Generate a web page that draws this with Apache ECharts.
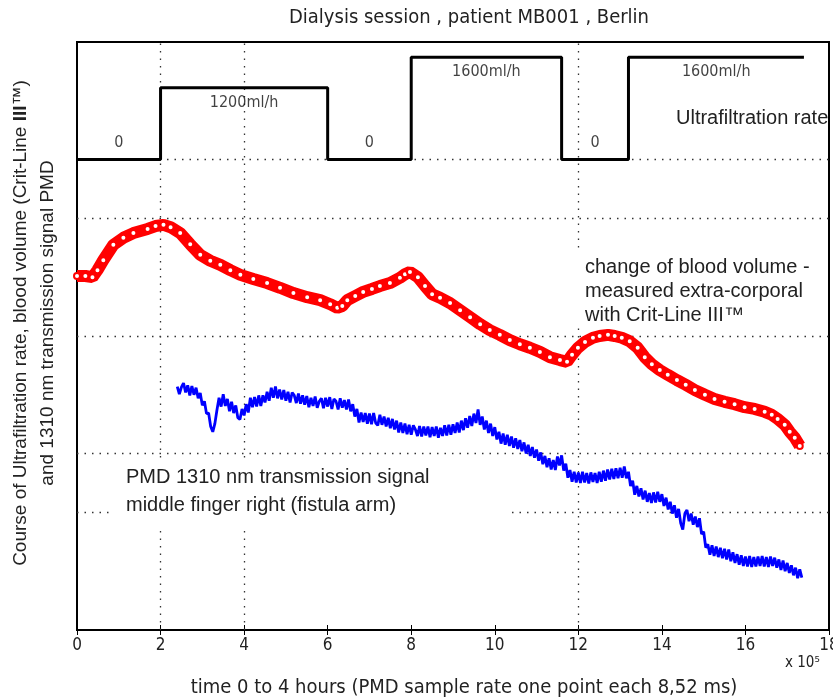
<!DOCTYPE html>
<html>
<head>
<meta charset="utf-8">
<script src="https://cdn.jsdelivr.net/npm/echarts@6/dist/echarts.min.js"></script>
<style>
html, body { margin: 0; padding: 0; background: #fff; }
#main { width: 833px; height: 700px; }
</style>
</head>
<body>
<div id="main"></div>
<script>
// dotted grid positions (the figure only shows some of them)
var yGridLevels = [20, 30, 50, 70, 80];
var xGridTimes = [2, 4, 12];

// ultrafiltration rate steps (time x10^5 samples, plotted level)
var ufTime = [0, 2, 6, 8, 11.6, 13.2, 17.4];
var ufLevel = [80, 92.2, 80, 97.4, 80, 97.4, 97.4];
var ufText = ['0', '1200ml/h', '0', '1600ml/h', '0', '1600ml/h'];

// blood volume, Crit-Line III (red circles)
var bvTime = [0.0, 0.20, 0.37, 0.49, 0.63, 0.87, 1.11, 1.35, 1.69, 1.88,
  2.07, 2.24, 2.47, 2.71, 2.95, 3.19, 3.43, 3.67, 3.91, 4.22,
  4.55, 4.86, 5.18, 5.51, 5.82, 6.06, 6.23, 6.35, 6.47, 6.66,
  6.85, 7.06, 7.25, 7.49, 7.73, 7.85, 7.97, 8.16, 8.33, 8.50,
  8.69, 8.93, 9.17, 9.41, 9.65, 9.88, 10.12, 10.36, 10.60, 10.84,
  11.08, 11.32, 11.56, 11.73, 11.85, 11.99, 12.16, 12.35, 12.51, 12.71,
  12.87, 13.04, 13.23, 13.42, 13.59, 13.76, 13.95, 14.14, 14.36, 14.57,
  14.79, 15.03, 15.26, 15.50, 15.74, 15.98, 16.22, 16.46, 16.63, 16.77,
  16.94, 17.06, 17.18, 17.30];
var bvValue = [60.2, 60.2, 60.0, 61.2, 62.9, 65.5, 66.7, 67.5, 68.2, 68.7,
  68.9, 68.5, 67.5, 65.6, 63.8, 62.8, 62.1, 61.2, 60.4, 59.7,
  59.0, 58.2, 57.3, 56.6, 56.1, 55.4, 54.8, 55.1, 56.1, 56.8,
  57.5, 58.0, 58.5, 59.0, 59.9, 60.5, 60.9, 60.0, 58.5, 57.1,
  56.5, 55.6, 54.4, 53.2, 52.0, 51.0, 50.2, 49.3, 48.6, 48.0,
  47.3, 46.4, 45.9, 45.6, 46.8, 48.0, 49.0, 49.7, 50.0, 50.2,
  50.0, 49.7, 49.1, 48.0, 46.4, 45.2, 44.2, 43.4, 42.5, 41.7,
  40.8, 40.0, 39.3, 38.8, 38.4, 37.9, 37.6, 37.1, 36.6, 35.9,
  34.9, 33.7, 32.7, 31.3];

// PMD 1310 nm transmission signal (blue), evenly sampled
var pmdStart = 2.4;
var pmdStep = 0.05;
var pmdValue = [
  41.4, 40.1, 41.3, 42.0, 40.4, 41.6, 39.9, 41.5, 40.0, 41.2,
  39.4, 40.3, 38.2, 38.9, 36.8, 36.9, 34.6, 33.7, 35.1, 37.4,
  39.5, 38.0, 40.1, 38.1, 39.3, 37.2, 38.8, 36.9, 38.2, 36.1,
  35.8, 37.6, 36.5, 38.4, 37.0, 39.5, 37.9, 39.6, 38.0, 39.9,
  38.1, 39.9, 38.7, 40.5, 39.0, 41.2, 39.5, 41.4, 39.4, 40.9,
  39.2, 40.8, 39.0, 40.5, 38.7, 40.4, 39.9, 38.6, 40.2, 38.5,
  39.9, 38.3, 39.8, 37.9, 39.5, 38.1, 39.7, 37.8, 38.9, 39.4,
  37.7, 39.5, 38.0, 39.6, 37.6, 39.3, 38.9, 37.5, 39.4, 37.8,
  39.1, 37.5, 39.2, 37.2, 38.4, 36.3, 37.6, 35.3, 37.0, 35.4,
  36.9, 35.1, 36.8, 35.0, 36.9, 35.2, 34.8, 36.6, 34.9, 36.3,
  34.6, 36.1, 34.3, 35.9, 34.1, 35.6, 33.6, 35.3, 33.5, 35.1,
  33.3, 34.9, 33.2, 34.8, 34.1, 33.0, 34.7, 32.9, 34.6, 33.1,
  34.6, 32.8, 34.5, 33.0, 34.6, 32.7, 34.4, 33.0, 34.8, 33.1,
  34.9, 33.2, 35.0, 33.5, 35.3, 33.6, 35.6, 34.0, 36.0, 34.4,
  36.4, 34.7, 36.8, 35.2, 37.5, 34.9, 36.3, 34.1, 35.6, 33.5,
  35.1, 33.0, 34.5, 32.4, 33.7, 31.7, 33.4, 31.5, 33.2, 31.3,
  32.9, 31.0, 32.6, 30.8, 32.3, 30.4, 31.9, 30.0, 31.5, 29.6,
  31.1, 29.3, 30.7, 28.8, 30.2, 28.2, 29.6, 27.7, 29.2, 27.3,
  28.9, 27.2, 29.5, 28.0, 29.7, 27.1, 28.3, 25.9, 27.2, 25.2,
  26.9, 25.1, 26.8, 25.0, 26.9, 25.1, 26.7, 24.9, 26.8, 25.2,
  26.7, 25.0, 26.9, 25.2, 27.1, 25.4, 27.3, 25.6, 27.4, 25.7,
  27.5, 25.8, 27.6, 25.9, 27.8, 25.8, 26.9, 24.5, 25.4, 23.0,
  24.5, 22.7, 24.1, 22.2, 23.7, 21.8, 23.3, 21.6, 23.4, 21.7,
  23.5, 21.8, 23.1, 21.1, 22.5, 20.5, 21.8, 19.8, 21.2, 19.1,
  20.6, 18.2, 17.1, 19.8, 20.4, 18.5, 19.8, 17.9, 19.3, 17.5,
  19.0, 16.3, 16.7, 14.0, 14.6, 12.8, 14.4, 12.6, 14.2, 12.4,
  14.0, 12.2, 13.8, 12.0, 13.7, 11.7, 13.2, 11.4, 12.9, 11.1,
  12.7, 10.9, 12.5, 10.8, 12.6, 10.7, 12.4, 10.8, 12.5, 10.9,
  12.6, 10.8, 12.4, 10.7, 12.5, 10.9, 12.3, 10.6, 12.0, 10.2,
  11.8, 10.0, 11.4, 9.7, 11.0, 9.3, 10.6, 8.8, 10.3, 8.9
];

var narrow = "'Liberation Sans Narrow', 'DejaVu Sans Condensed', 'Liberation Sans', sans-serif";
var plain = "'Liberation Sans', Arial, sans-serif";

var ufData = ufTime.map(function (t, i) { return [t, ufLevel[i]]; });
var ufLabelData = ufText.map(function (s, i) {
  var mid = (ufTime[i] + ufTime[i + 1]) / 2;
  var high = ufLevel[i] > 80;
  return {
    value: [mid, ufLevel[i]],
    label: { formatter: s, position: high ? 'bottom' : 'top', distance: high ? 7 : 9 }
  };
});
var bvData = bvTime.map(function (t, i) { return [t, bvValue[i]]; });
var pmdData = pmdValue.map(function (v, i) { return [pmdStart + i * pmdStep, v]; });

var gridMarks = yGridLevels.map(function (v) { return { yAxis: v }; })
  .concat(xGridTimes.map(function (v) { return { xAxis: v }; }));

var myChart = echarts.init(document.getElementById('main'));

var option = {
  animation: false,
  backgroundColor: '#fff',
  grid: { left: 77, right: 4, top: 42, bottom: 70, outerBoundsMode: 'none', show: true, borderColor: '#000', borderWidth: 2 },
  xAxis: [{
    type: 'value', min: 0, max: 18, interval: 2, position: 'bottom',
    axisLine: { show: true, lineStyle: { color: '#000', width: 2 } },
    axisTick: { inside: true, length: 5, lineStyle: { color: '#000' } },
    axisLabel: { fontSize: 17, color: '#222', margin: 7, fontFamily: narrow },
    splitLine: { show: false }
  }, {
    type: 'value', min: 0, max: 18, interval: 2, position: 'top',
    axisLine: { show: true, lineStyle: { color: '#000', width: 2 } },
    axisTick: { inside: true, length: 5, lineStyle: { color: '#000' } },
    axisLabel: { show: false },
    splitLine: { show: false }
  }],
  yAxis: [{
    type: 'value', min: 0, max: 100, position: 'left',
    axisLine: { show: true, lineStyle: { color: '#000', width: 2 } },
    axisTick: { show: false },
    axisLabel: { show: false },
    splitLine: { show: false }
  }, {
    type: 'value', min: 0, max: 100, position: 'right',
    axisLine: { show: true, lineStyle: { color: '#000', width: 2 } },
    axisTick: { show: false },
    axisLabel: { show: false },
    splitLine: { show: false }
  }],
  series: [{
    name: 'Ultrafiltration rate',
    type: 'line',
    step: 'end',
    data: ufData,
    showSymbol: false,
    lineStyle: { color: '#000', width: 3 },
    z: 5,
    markLine: {
      silent: true,
      symbol: 'none',
      label: { show: false },
      lineStyle: { color: '#333', type: [1.5, 6], width: 1.3 },
      data: gridMarks,
      z: 1
    }
  }, {
    name: 'uf labels',
    type: 'scatter',
    data: ufLabelData,
    symbolSize: 0,
    label: { show: true, fontSize: 16, color: '#111', fontFamily: narrow }
  }, {
    name: 'blood volume',
    type: 'line',
    data: bvData,
    symbol: 'emptyCircle',
    symbolSize: 6,
    showAllSymbol: true,
    lineStyle: { color: '#ff0000', width: 12 },
    itemStyle: { color: '#ff0000', borderColor: '#ff0000', borderWidth: 1.5 },
    z: 4
  }, {
    name: 'PMD',
    type: 'line',
    data: pmdData,
    showSymbol: false,
    lineStyle: { color: '#0000ff', width: 2.8 },
    z: 4
  }],
  graphic: [
    { type: 'rect', z: 50, shape: { x: 110, y: 462, width: 398, height: 66 }, style: { fill: '#fff' } },
    { type: 'rect', z: 50, shape: { x: 574, y: 252, width: 250, height: 74 }, style: { fill: '#fff' } },
    { type: 'text', z: 60, x: 469, y: 18, style: { text: 'Dialysis session , patient MB001 , Berlin', font: '20px ' + narrow, fill: '#222', textAlign: 'center', textVerticalAlign: 'middle' } },
    { type: 'text', z: 60, x: 464, y: 688, style: { text: 'time 0 to 4 hours (PMD sample rate one point each 8,52 ms)', font: '20px ' + narrow, fill: '#222', textAlign: 'center', textVerticalAlign: 'middle' } },
    { type: 'text', z: 60, x: 785, y: 663, style: { text: 'x 10\u2075', font: '15px ' + narrow, fill: '#222', textAlign: 'left', textVerticalAlign: 'middle' } },
    { type: 'text', z: 60, x: 21, y: 323, rotation: Math.PI / 2, style: {
      text: '{n|Course of Ultrafiltration rate, blood volume (Crit-Line }{b|III}{n|\u2122)}',
      rich: { n: { font: '19px ' + plain, fill: '#222' }, b: { font: 'bold 19px ' + plain, fill: '#222' } },
      textAlign: 'center', textVerticalAlign: 'middle' } },
    { type: 'text', z: 60, x: 48, y: 323, rotation: Math.PI / 2, style: { text: 'and 1310 nm transmission signal PMD', font: '19px ' + plain, fill: '#222', textAlign: 'center', textVerticalAlign: 'middle' } },
    { type: 'text', z: 60, x: 585, y: 267, style: { text: 'change of blood volume -', font: '20px ' + plain, fill: '#222', textVerticalAlign: 'middle' } },
    { type: 'text', z: 60, x: 585, y: 291, style: { text: 'measured extra-corporal', font: '20px ' + plain, fill: '#222', textVerticalAlign: 'middle' } },
    { type: 'text', z: 60, x: 585, y: 315, style: { text: 'with Crit-Line III\u2122', font: '20px ' + plain, fill: '#222', textVerticalAlign: 'middle' } },
    { type: 'text', z: 60, x: 126, y: 477, style: { text: 'PMD 1310 nm transmission signal', font: '20px ' + plain, fill: '#222', textVerticalAlign: 'middle' } },
    { type: 'text', z: 60, x: 126, y: 505, style: { text: 'middle finger right (fistula arm)', font: '20px ' + plain, fill: '#222', textVerticalAlign: 'middle' } },
    { type: 'text', z: 60, x: 676, y: 118, style: { text: 'Ultrafiltration rate', font: '20px ' + plain, fill: '#222', textVerticalAlign: 'middle' } }
  ]
};

myChart.setOption(option);
</script>
</body>
</html>
